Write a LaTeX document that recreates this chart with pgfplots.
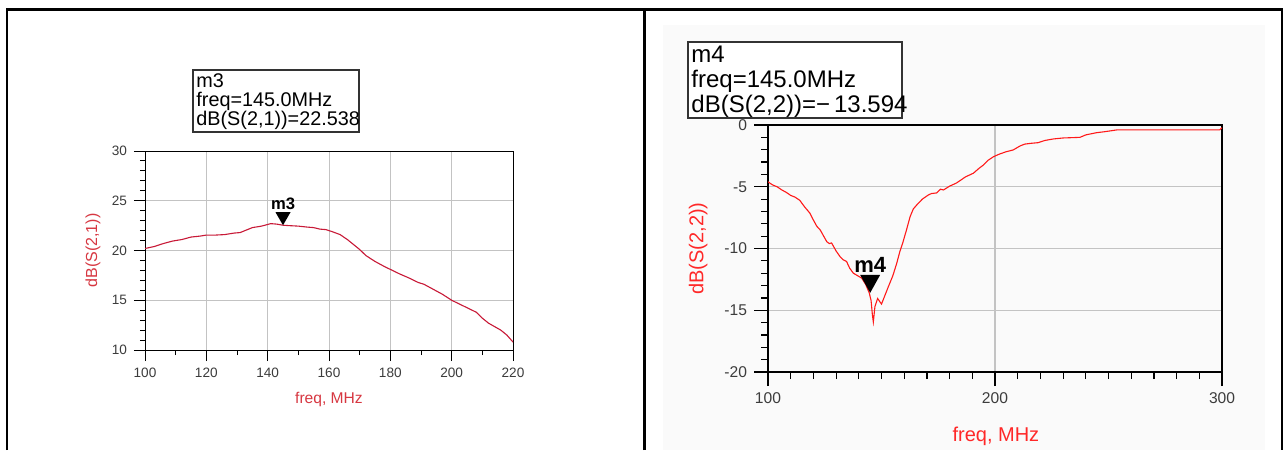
\documentclass[border=0pt]{standalone}
\usepackage{fontspec}
\setmainfont{Liberation Sans}
\usepackage{pgfplots}
\pgfplotsset{compat=1.18}
\definecolor{leftline}{RGB}{200,25,55}
\definecolor{leftlab}{RGB}{215,55,65}
\definecolor{rightline}{RGB}{255,25,25}
\definecolor{rightlab}{RGB}{255,40,40}
\definecolor{gridgray}{RGB}{195,195,195}
\definecolor{ticklab}{RGB}{60,60,60}
\definecolor{bggray}{RGB}{250,250,250}
\pgfdeclareplotmark{dtriL}{\pgfpathmoveto{\pgfqpoint{0pt}{0pt}}\pgfpathlineto{\pgfqpoint{-3.75pt}{6.5pt}}\pgfpathlineto{\pgfqpoint{3.75pt}{6.5pt}}\pgfpathclose\pgfusepathqfill}
\pgfdeclareplotmark{dtriR}{\pgfpathmoveto{\pgfqpoint{0pt}{0pt}}\pgfpathlineto{\pgfqpoint{-5pt}{9pt}}\pgfpathlineto{\pgfqpoint{5pt}{9pt}}\pgfpathclose\pgfusepathqfill}
\begin{document}
\begin{tikzpicture}[x=0.5pt,y=0.5pt]
\useasboundingbox (0,0) rectangle (1284,450);
\fill[white] (0,0) rectangle (1284,450);
\fill[bggray] (663,0) rectangle (1265,425);
% frame
\draw[line width=1.25pt] (7,0) -- (7,440.5) -- (1282,440.5) -- (1282,0);
\draw[line width=1.25pt] (644.5,0) -- (644.5,440.5);
% marker boxes
\draw[line width=0.6pt, black!80, fill=white] (193,318) rectangle (359,380);
\node[anchor=north west, inner sep=0, align=left, font=\fontsize{9.9pt}{9.5pt}\selectfont] at (196,377) {m3\\freq=145.0MHz\\dB(S(2,1))=22.538};
\draw[line width=0.6pt, black!80, fill=white] (688,332) rectangle (902,408);
\node[anchor=north west, inner sep=0, align=left, font=\fontsize{12pt}{12.5pt}\selectfont] at (691,404) {m4\\freq=145.0MHz\\dB(S(2,2))=\char"2212\,13.594};

\begin{axis}[
  at={(72.5pt,50pt)}, anchor=south west, scale only axis,
  width=184pt, height=99.5pt,
  xmin=100, xmax=220, ymin=10, ymax=30,
  xtick={100,120,...,220}, ytick={10,15,...,30},
  minor x tick num=1, minor y tick num=4,
  xtick pos=bottom, ytick pos=left,
  tick align=outside, major tick length=5.5pt, minor tick length=2.5pt,
  grid=major, major grid style={gridgray, line width=0.5pt},
  axis line style={black, line width=0.5pt},
  every tick/.style={black, line width=0.5pt},
  ticklabel style={font=\fontsize{6.8pt}{7pt}\selectfont, text=ticklab},
  /pgf/number format/assume math mode=true,
  xlabel={freq, MHz}, ylabel={dB(S(2,1))},
  every axis x label/.style={at={(axis description cs:0.5,-0.251)}, anchor=center, font=\fontsize{7.8pt}{8pt}\selectfont, text=leftlab},
  every axis y label/.style={at={(axis description cs:-0.141,0.5)}, anchor=center, rotate=90, font=\fontsize{8pt}{8pt}\selectfont, text=leftlab},
]
\addplot[leftline, line width=0.55pt] coordinates {
(100,20.2) (103,20.4) (106,20.7) (109,20.95) (112,21.1) (115,21.35) (118,21.45)
(120,21.55) (123,21.55) (126,21.6) (129,21.75) (131,21.8) (133,22.05) (135,22.3)
(138,22.45) (141,22.7) (143,22.65) (145,22.54) (147,22.5) (150,22.45) (153,22.35)
(155,22.3) (157,22.15) (159,22.1) (161,21.9) (163.6,21.6) (166,21.1) (168,20.6)
(170,20.1) (172,19.5) (175,18.9) (178,18.4) (180,18.1) (183,17.65) (186,17.25)
(189,16.8) (191,16.6) (194,16.1) (197,15.6) (200,15.0) (203,14.55) (206,14.1)
(208,13.8) (210,13.2) (212,12.7) (214,12.35) (216,12.0) (218,11.5) (220,10.8)
};
\addplot[only marks, mark=dtriL, black] coordinates {(145,22.538)};
\node[anchor=south, inner sep=0.5pt, font=\bfseries\fontsize{8.3pt}{8.3pt}\selectfont] at (axis cs:145,22.538) [yshift=7pt] {m3};
\end{axis}

\begin{axis}[
  at={(384pt,39pt)}, anchor=south west, scale only axis,
  width=227pt, height=123.5pt,
  xmin=100, xmax=300, ymin=-20, ymax=0,
  xtick={100,200,300}, ytick={-20,-15,...,0},
  yticklabels={-20,-15,-10,-5,0},
  minor x tick num=9, minor y tick num=4,
  xtick pos=bottom, ytick pos=left,
  tick align=outside, major tick length=7pt, minor tick length=3.5pt,
  grid=major, major grid style={gridgray, line width=0.6pt},
  axis line style={black, line width=0.6pt},
  every tick/.style={black, line width=0.6pt},
  ticklabel style={font=\fontsize{7.8pt}{8pt}\selectfont, text=ticklab},
  /pgf/number format/assume math mode=true,
  xlabel={freq, MHz}, ylabel={dB(S(2,2))},
  every axis x label/.style={at={(axis description cs:0.502,-0.259)}, anchor=center, font=\fontsize{10pt}{10pt}\selectfont, text=rightlab},
  every axis y label/.style={at={(axis description cs:-0.154,0.5)}, anchor=center, rotate=90, font=\fontsize{10pt}{10pt}\selectfont, text=rightlab},
]
\addplot[rightline, line width=0.55pt] coordinates {
(100,-4.6) (102,-4.85) (104,-5.0) (106,-5.25) (108,-5.45) (110,-5.7) (112,-5.85)
(114,-6.1) (116,-6.6) (118.5,-7.15) (120,-7.7) (121.5,-8.2) (123,-8.5) (125.9,-9.45)
(127,-9.6) (128,-9.55) (130,-10.2) (131.7,-10.65) (133,-10.9) (134.6,-11.05)
(136,-11.6) (137.6,-12.0) (139,-12.15) (141.3,-12.4) (143,-12.9) (144.6,-13.6)
(145.4,-14.2) (146,-15.4) (146.4,-15.95) (147.1,-14.7) (148.3,-14.05) (150,-14.5)
(151.5,-13.8) (153,-13.1) (155,-12.2) (156.7,-11.2) (158,-10.3) (159.3,-9.58)
(161,-8.5) (162.6,-7.42) (164,-6.8) (165.5,-6.48) (168,-6.0) (170.6,-5.67)
(172,-5.55) (174.3,-5.5) (176,-5.2) (177.3,-5.26) (180,-4.95) (183,-4.7)
(185,-4.45) (187,-4.2) (190.5,-3.9) (193,-3.5) (194.9,-3.24) (197,-2.85)
(199.3,-2.57) (202,-2.35) (205,-2.16) (208,-2.02) (211,-1.7) (213,-1.55)
(216,-1.48) (219,-1.43) (222,-1.25) (225.7,-1.13) (230,-1.05) (237.4,-1.0)
(240,-0.8) (244.8,-0.62) (248,-0.55) (253.6,-0.40) (260,-0.40) (299,-0.40) (300,-0.22)
};
\addplot[only marks, mark=dtriR, black] coordinates {(145,-13.594)};
\node[anchor=south, inner sep=0.5pt, font=\bfseries\fontsize{11pt}{11pt}\selectfont] at (axis cs:145,-13.594) [yshift=9.5pt] {m4};
\end{axis}
\end{tikzpicture}
\end{document}
